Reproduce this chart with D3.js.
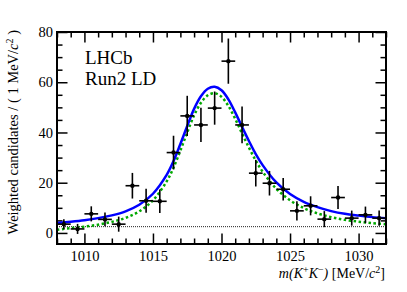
<!DOCTYPE html>
<html>
<head>
<meta charset="utf-8">
<script src="https://cdn.jsdelivr.net/npm/d3@7"></script>
<style>
  html, body { margin: 0; padding: 0; background: #fff; }
  svg text { font-family: "Liberation Serif", "Times New Roman", serif; }
</style>
</head>
<body>
<div id="chart"></div>
<script>
// ---- data ----
const binCenters = [1008.5, 1009.5, 1010.5, 1011.5, 1012.5, 1013.5, 1014.5, 1015.5, 1016.5, 1017.5, 1018.5, 1019.5,
                    1020.5, 1021.5, 1022.5, 1023.5, 1024.5, 1025.5, 1026.5, 1027.5, 1028.5, 1029.5, 1030.5, 1031.5];
const binValues = [3.5, 1.6, 7.6, 5.4, 3.5, 18.8, 12.8, 12.6, 32.0, 46.6, 43.0, 49.7,
                   68.4, 43.0, 23.8, 19.8, 17.4, 8.8, 10.8, 5.5, 14.1, 5.9, 7.2, 5.9];
const binErrors = [2.0, 2.0, 3.0, 2.7, 3.0, 5.1, 4.8, 4.7, 6.7, 8.0, 6.8, 6.6,
                   9.0, 7.3, 5.3, 4.9, 4.5, 3.8, 3.8, 3.2, 4.6, 3.0, 3.3, 3.0];
const binHalfWidth = 0.5;

const curveX = [1008, 1009, 1010, 1011, 1012, 1013, 1014, 1015, 1016, 1016.5, 1017, 1017.5, 1018, 1018.5, 1019, 1019.5,
                1020, 1020.5, 1021, 1021.5, 1022, 1022.5, 1023, 1024, 1025, 1026, 1027, 1028, 1029, 1030, 1031, 1032];
const signalY = [1.3, 1.9, 2.5, 3.3, 4.4, 6.0, 8.6, 13.0, 20.5, 26.0, 32.8, 40.0, 46.8, 51.8, 54.8, 55.6,
                 54.2, 50.6, 45.4, 39.6, 34.0, 28.8, 24.4, 17.6, 13.0, 9.9, 7.8, 6.3, 5.2, 4.5, 3.9, 3.5];
const totalY = [4.0, 4.5, 5.1, 5.9, 7.0, 8.6, 11.2, 15.6, 23.1, 28.6, 35.4, 42.6, 49.4, 54.4, 57.4, 58.2,
                56.8, 53.2, 48.0, 42.2, 36.6, 31.4, 27.0, 20.1, 15.5, 12.4, 10.3, 8.7, 7.6, 6.9, 6.3, 5.9];
const bkgX = [1008, 1032];
const bkgY = [2.5, 2.5];

const xMajorTicks = [1010, 1015, 1020, 1025, 1030];
const xMinorTicks = d3.range(1008, 1033, 1);
const yMajorTicks = [0, 20, 40, 60, 80];
const yMinorTicks = [5, 10, 15, 25, 30, 35, 45, 50, 55, 65, 70, 75];
const xDomain = [1008, 1032];
const yDomain = [-4.4, 80];

// ---- layout ----
const W = 407, H = 292;
const mLeft = 57, mRight = 386, mTop = 32, mBottom = 244;

const svg = d3.select("#chart").append("svg")
  .attr("width", W).attr("height", H)
  .style("display", "block");
svg.append("rect").attr("width", W).attr("height", H).attr("fill", "#fff");

const x = d3.scaleLinear().domain(xDomain).range([mLeft, mRight]);
const y = d3.scaleLinear().domain(yDomain).range([mBottom, mTop]);

const majorLen = 10.5, minorLen = 5.5;
const xMinorOnly = xMinorTicks.filter(v => !xMajorTicks.includes(v));

function addAxis(axis, tx, ty) {
  const g = svg.append("g").attr("transform", `translate(${tx},${ty})`).call(axis);
  g.select(".domain").remove();
  return g;
}
// bottom axis with labels
addAxis(d3.axisBottom(x).tickValues(xMajorTicks).tickSize(-majorLen).tickPadding(7).tickFormat(d3.format("d")), 0, mBottom);
addAxis(d3.axisBottom(x).tickValues(xMinorOnly).tickSize(-minorLen).tickFormat(""), 0, mBottom);
// top axis
addAxis(d3.axisTop(x).tickValues(xMajorTicks).tickSize(-majorLen).tickFormat(""), 0, mTop);
addAxis(d3.axisTop(x).tickValues(xMinorOnly).tickSize(-minorLen).tickFormat(""), 0, mTop);
// left axis with labels
addAxis(d3.axisLeft(y).tickValues(yMajorTicks).tickSize(-majorLen).tickPadding(4).tickFormat(d3.format("d")), mLeft, 0);
addAxis(d3.axisLeft(y).tickValues(yMinorTicks).tickSize(-minorLen).tickFormat(""), mLeft, 0);
// right axis
addAxis(d3.axisRight(y).tickValues(yMajorTicks).tickSize(-majorLen).tickFormat(""), mRight, 0);
addAxis(d3.axisRight(y).tickValues(yMinorTicks).tickSize(-minorLen).tickFormat(""), mRight, 0);

svg.selectAll(".tick line").attr("stroke", "#000").attr("stroke-width", 1.5);
svg.selectAll(".tick text").attr("font-size", 14.5).attr("fill", "#000")
  .style("font-family", '"Liberation Serif", serif');

// curves
const line = d3.line().x(d => x(d[0])).y(d => y(d[1])).curve(d3.curveCatmullRom);
const plot = svg.append("g");
plot.append("path").datum(bkgX.map((v, i) => [v, bkgY[i]]))
  .attr("d", d3.line().x(d => x(d[0])).y(d => y(d[1])))
  .attr("fill", "none").attr("stroke", "#222").attr("stroke-width", 1).attr("stroke-dasharray", "1,1");
plot.append("path").datum(curveX.map((v, i) => [v, signalY[i]]))
  .attr("d", line).attr("fill", "none").attr("stroke", "#00a800").attr("stroke-width", 2.5)
  .attr("stroke-dasharray", "2.5,2.5");
plot.append("path").datum(curveX.map((v, i) => [v, totalY[i]]))
  .attr("d", line).attr("fill", "none").attr("stroke", "#0000ff").attr("stroke-width", 2.5);

// data points
const pts = plot.append("g").selectAll("g").data(binCenters.map((c, i) => ({c, v: binValues[i], e: binErrors[i]})))
  .enter().append("g");
pts.append("line").attr("x1", d => x(d.c - binHalfWidth)).attr("x2", d => x(d.c + binHalfWidth))
  .attr("y1", d => y(d.v)).attr("y2", d => y(d.v)).attr("stroke", "#000").attr("stroke-width", 1.6);
pts.append("line").attr("x1", d => x(d.c)).attr("x2", d => x(d.c))
  .attr("y1", d => y(d.v - d.e)).attr("y2", d => y(d.v + d.e)).attr("stroke", "#000").attr("stroke-width", 1.6);
pts.append("circle").attr("cx", d => x(d.c)).attr("cy", d => y(d.v)).attr("r", 2.2).attr("fill", "#000");

// frame
svg.append("rect").attr("x", mLeft).attr("y", mTop).attr("width", mRight - mLeft).attr("height", mBottom - mTop)
  .attr("fill", "none").attr("stroke", "#000").attr("stroke-width", 2);

// labels
svg.append("text").attr("x", 85).attr("y", 64).attr("font-size", 19).text("LHCb");
svg.append("text").attr("x", 85).attr("y", 85).attr("font-size", 19).text("Run2 LD");

const yt = svg.append("text").attr("transform", "translate(18,30) rotate(-90)")
  .attr("text-anchor", "end").attr("font-size", 14.5);
yt.append("tspan").text("Weighted candidates / ( 1 MeV/");
yt.append("tspan").attr("font-style", "italic").text("c");
yt.append("tspan").attr("font-size", 10).attr("dy", -5).text("2");
yt.append("tspan").attr("dy", 5).text(" )");

const xt = svg.append("text").attr("x", 385).attr("y", 278).attr("text-anchor", "end").attr("font-size", 14);
xt.append("tspan").attr("font-style", "italic").text("m(K");
xt.append("tspan").attr("font-size", 10).attr("dy", -5).text("+");
xt.append("tspan").attr("font-style", "italic").attr("dy", 5).text("K");
xt.append("tspan").attr("font-size", 10).attr("dy", -5).text("\u2212");
xt.append("tspan").attr("font-style", "italic").attr("dy", 5).text(")");
xt.append("tspan").text(" [MeV/");
xt.append("tspan").attr("font-style", "italic").text("c");
xt.append("tspan").attr("font-size", 10).attr("dy", -5).text("2");
xt.append("tspan").attr("dy", 5).text("]");
</script>
</body>
</html>
